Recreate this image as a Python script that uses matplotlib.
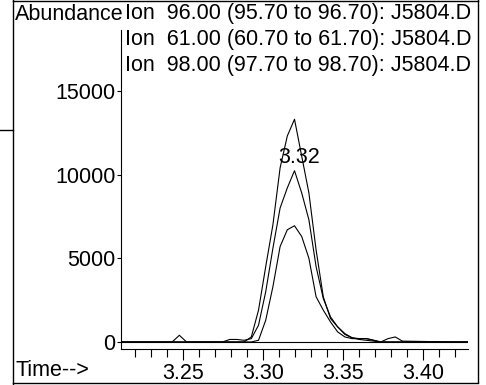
import matplotlib.pyplot as plt
from matplotlib.lines import Line2D
from matplotlib.ticker import MultipleLocator

plt.rcParams['font.family'] = ['Liberation Sans', 'DejaVu Sans']

# Data
times = [3.211, 3.2430, 3.2475, 3.2520, 3.2745, 3.2790, 3.2835, 3.2880,
         3.2925, 3.2970, 3.3015, 3.3060, 3.3105, 3.3150, 3.3195, 3.3240,
         3.3285, 3.3330, 3.3375, 3.3420, 3.3465, 3.3510, 3.3555, 3.3600,
         3.3645, 3.3690, 3.3735, 3.3780, 3.3825, 3.3870, 3.4200, 3.4280]

ion96 = [0, 0, 0, 0, 0, 0, 0, 0,
         300, 1900, 4500, 7000, 10400, 12300, 13300, 11100,
         8900, 5500, 2700, 1400, 900, 500, 250, 150,
         100, 50, 0, 0, 0, 0, 0, 0]

ion61 = [0, 0, 0, 0, 0, 150, 150, 100,
         200, 1000, 3000, 5600, 8000, 9200, 10230, 8900,
         7300, 4500, 2600, 1500, 900, 450, 250, 200,
         200, 100, 0, 0, 0, 0, 0, 0]

ion98 = [0, 0, 400, 0, 0, 0, 0, 0,
         0, 100, 1300, 3300, 5700, 6700, 6940, 6300,
         5000, 2700, 1900, 1200, 600, 300, 200, 200,
         200, 100, 0, 200, 300, 50, 0, 0]

y_ticks = [0, 5000, 10000, 15000]
x_ticks = [3.25, 3.30, 3.35, 3.40]
headers = ['Ion  96.00 (95.70 to 96.70): J5804.D',
           'Ion  61.00 (60.70 to 61.70): J5804.D',
           'Ion  98.00 (97.70 to 98.70): J5804.D']

FS = 15.5

fig = plt.figure(figsize=(4.86, 3.85), dpi=100)
ax = fig.add_axes([121 / 486, 1 - 349 / 385, (468 - 121) / 486, (349 - 30) / 385])

for ys in (ion96, ion61, ion98):
    ax.plot(times, ys, color='black', lw=0.8)
ax.axhline(0, color='black', lw=0.8)

ax.set_xlim(3.211, 3.428)
ax.set_ylim(-420, 18630)
ax.set_xticks(x_ticks)
ax.set_xticklabels(['%.2f' % t for t in x_ticks])
ax.xaxis.set_minor_locator(MultipleLocator(0.01))
ax.set_yticks(y_ticks)
ax.tick_params(axis='both', labelsize=FS, colors='black', direction='out')
ax.tick_params(axis='x', which='major', length=8, width=0.8, pad=2)
ax.tick_params(axis='x', which='minor', length=6, width=0.8)
ax.tick_params(axis='y', length=3, width=0.8, pad=1)
ax.spines['top'].set_visible(False)
ax.spines['right'].set_visible(False)
for s in ('left', 'bottom'):
    ax.spines[s].set_linewidth(0.8)

ax.text(3.3225, 11000, '3.32', fontsize=FS, ha='center', va='center')

# header texts
fig.text(15 / 486, 1 - 14 / 385, 'Abundance', fontsize=FS, va='center', ha='left')
for i, h in enumerate(headers):
    fig.text(125 / 486, 1 - (14 + 26 * i) / 385, h, fontsize=FS, va='center', ha='left')
fig.text(15 / 486, 1 - 370 / 385, 'Time-->', fontsize=FS, va='center', ha='left')

# outer frame of the printout
def fline(x0, y0, x1, y1):
    fig.add_artist(Line2D([x0 / 486, x1 / 486], [1 - y0 / 385, 1 - y1 / 385],
                          transform=fig.transFigure, color='black', lw=1))

fline(13, 0, 13, 385)
fline(13, 1, 478, 1)
fline(478, 0, 478, 382)
fline(13, 383, 478, 383)
fline(0, 130, 13, 130)

plt.savefig('out.png', dpi=100)
